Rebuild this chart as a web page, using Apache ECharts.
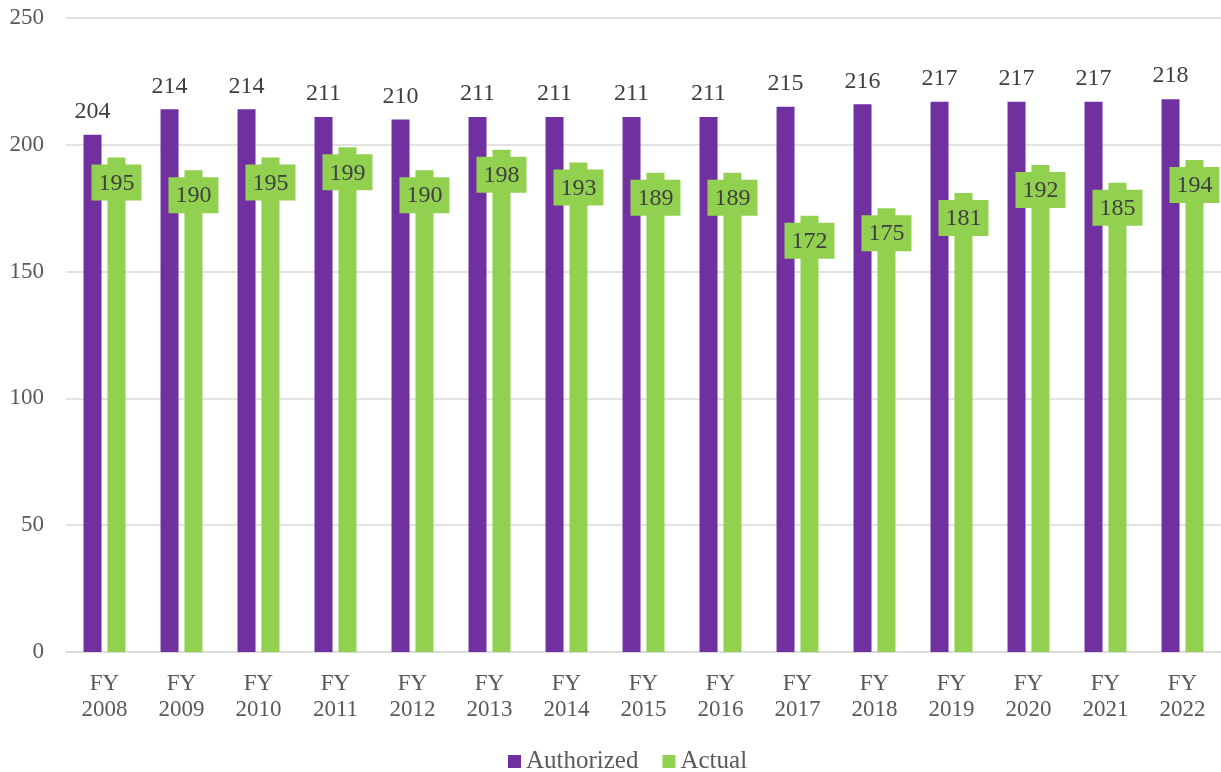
<!DOCTYPE html>
<html><head><meta charset="utf-8">
<script src="https://cdn.jsdelivr.net/npm/echarts@6/dist/echarts.min.js"></script>
<style>html,body{margin:0;padding:0;background:#fff}#c{width:1221px;height:772px}</style>
</head><body><div id="c"></div>
<script>
const categories = ['FY\n2008','FY\n2009','FY\n2010','FY\n2011','FY\n2012','FY\n2013','FY\n2014','FY\n2015','FY\n2016','FY\n2017','FY\n2018','FY\n2019','FY\n2020','FY\n2021','FY\n2022'];
const authorized = [204,214,214,211,210,211,211,211,211,215,216,217,217,217,218];
const actual = [195,190,195,199,190,198,193,189,189,172,175,181,192,185,194];
const yTicks = {min:0, max:250, interval:50};

const FONT = '"Liberation Serif", "DejaVu Serif", serif';
const chart = echarts.init(document.getElementById('c'));
chart.setOption({
  animation:false,
  textStyle:{fontFamily:FONT},
  grid:{left:66, right:0, top:18, bottom:120, containLabel:false},
  legend:{top:744, left:503, itemWidth:13, itemHeight:13, itemGap:24, icon:'rect',
    textStyle:{fontFamily:FONT, fontSize:25, color:'#595959'},
    data:['Authorized','Actual']},
  xAxis:{type:'category', data:categories,
    axisLine:{lineStyle:{color:'#D9D9D9', width:1.5}}, axisTick:{show:false},
    axisLabel:{fontFamily:FONT, fontSize:23, color:'#595959', lineHeight:26, margin:19}},
  yAxis:{type:'value', min:yTicks.min, max:yTicks.max, interval:yTicks.interval,
    axisLine:{show:false}, axisTick:{show:false},
    splitLine:{lineStyle:{color:'#D9D9D9', width:1.5}},
    axisLabel:{fontFamily:FONT, fontSize:23, color:'#595959', margin:22}},
  series:[
    {name:'Authorized', type:'bar', data:authorized, barWidth:18, barGap:'33%',
     itemStyle:{color:'#7030A0'},
     label:{show:true, position:'top', distance:11, fontFamily:FONT, fontSize:24, color:'#404040'}},
    {name:'Actual', type:'bar', data:actual, barWidth:18,
     itemStyle:{color:'#92D050'},
     label:{show:true, position:'insideTop', distance:7, fontFamily:FONT, fontSize:24, color:'#404040',
       backgroundColor:'#92D050', padding:[7,7,5,7]}}
  ]
});
</script></body></html>
